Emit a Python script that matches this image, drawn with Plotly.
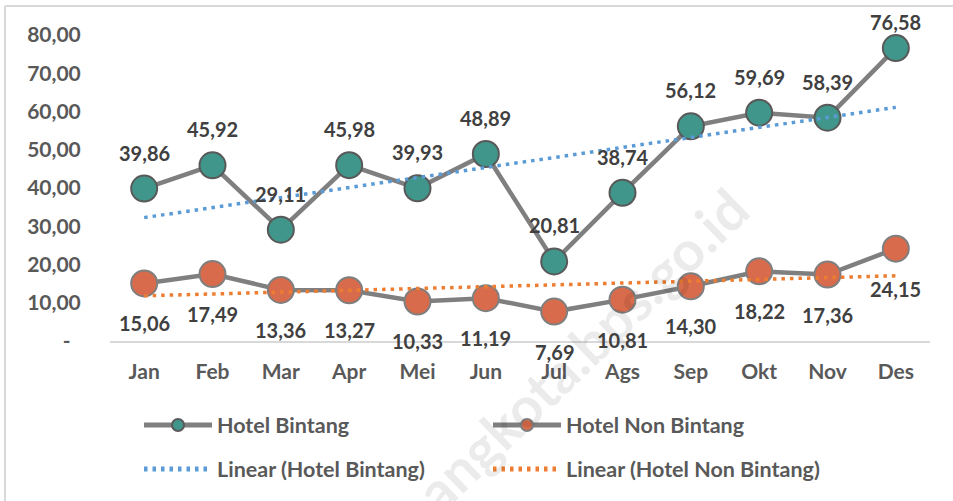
import numpy as np
import plotly.graph_objects as go

months = ["Jan", "Feb", "Mar", "Apr", "Mei", "Jun", "Jul", "Ags", "Sep", "Okt", "Nov", "Des"]
hotel_bintang = [39.86, 45.92, 29.11, 45.98, 39.93, 48.89, 20.81, 38.74, 56.12, 59.69, 58.39, 76.58]
hotel_non_bintang = [15.06, 17.49, 13.36, 13.27, 10.33, 11.19, 7.69, 10.81, 14.30, 18.22, 17.36, 24.15]
y_tick_vals = [0, 10, 20, 30, 40, 50, 60, 70, 80]
y_tick_text = ["-  ", "10,00", "20,00", "30,00", "40,00", "50,00", "60,00", "70,00", "80,00"]

FONT = "Lato, 'Open Sans', sans-serif"
W, H = 953, 501
L, R, T, B = 110, 23, 35, 160
PW, PH = W - L - R, H - T - B


def px(xp):
    return (xp - L) / PW


def py(yp):
    return (H - B - yp) / PH


def fmt(v):
    return f"{v:.2f}".replace(".", ",")


idx = np.arange(len(months))
trend_b = np.polyval(np.polyfit(idx, hotel_bintang, 1), idx)
trend_nb = np.polyval(np.polyfit(idx, hotel_non_bintang, 1), idx)

fig = go.Figure()
fig.add_trace(go.Scatter(
    x=months, y=hotel_bintang, name="Hotel Bintang", mode="lines+markers",
    line=dict(color="#7F7F7F", width=4.5),
    marker=dict(size=26, color="#40968A", line=dict(color="#595959", width=2)),
    legend="legend"))
fig.add_trace(go.Scatter(
    x=months, y=hotel_non_bintang, name="Hotel Non Bintang", mode="lines+markers",
    line=dict(color="#7F7F7F", width=4.5),
    marker=dict(size=26, color="#D86B4B", line=dict(color="#7F7F7F", width=2)),
    legend="legend2"))
fig.add_trace(go.Scatter(
    x=months, y=trend_b, name="Linear (Hotel Bintang)", mode="lines",
    line=dict(color="#5B9BD5", width=3.5, dash="3.5px,5px"),
    legend="legend3"))
fig.add_trace(go.Scatter(
    x=months, y=trend_nb, name="Linear (Hotel Non Bintang)", mode="lines",
    line=dict(color="#ED7D31", width=3.5, dash="3.5px,5px"),
    legend="legend4"))

annotations = []
# watermark (drawn first so labels sit on top)
annotations.append(dict(xref="paper", yref="paper", x=px(582), y=py(350), text="angkota.bps.go.id",
                        xanchor="center", yanchor="middle",
                        showarrow=False, textangle=-44,
                        font=dict(family=FONT, size=56, color="rgba(0,0,0,0.08)", weight="bold")))
n = len(months)
for i, (m, v) in enumerate(zip(months, hotel_bintang)):
    annotations.append(dict(x=m, y=v, text=fmt(v), showarrow=False,
                            yshift=26 if i == n - 1 else 36,
                            font=dict(family=FONT, size=20, color="#404040", weight="bold")))
for m, v in zip(months, hotel_non_bintang):
    annotations.append(dict(x=m, y=v, text=fmt(v), showarrow=False, yshift=-40,
                            font=dict(family=FONT, size=20, color="#404040", weight="bold")))

leg_font = dict(family=FONT, size=21.5, color="#595959", weight="bold")
leg_common = dict(orientation="h", xanchor="left", yanchor="middle", font=leg_font,
                  bgcolor="rgba(0,0,0,0)", itemwidth=68, itemsizing="constant")

fig.update_layout(
    width=W, height=H,
    margin=dict(l=L, r=R, t=T, b=B),
    paper_bgcolor="white", plot_bgcolor="white",
    font=dict(family=FONT),
    showlegend=True,
    legend=dict(x=px(139), y=py(425), **leg_common),
    legend2=dict(x=px(488), y=py(425), **leg_common),
    legend3=dict(x=px(139), y=py(469), **leg_common),
    legend4=dict(x=px(488), y=py(469), **leg_common),
    xaxis=dict(
        type="category", range=[-0.5, 11.5], showgrid=False, showline=True,
        linecolor="#D9D9D9", linewidth=2, ticks="outside", ticklen=11,
        tickcolor="rgba(0,0,0,0)",
        tickfont=dict(family=FONT, size=21, color="#595959", weight="bold"),
        zeroline=False, fixedrange=True),
    yaxis=dict(
        range=[0, 80], tickvals=y_tick_vals, ticktext=y_tick_text, showgrid=False,
        showline=False, zeroline=False, ticks="outside", ticklen=24,
        tickcolor="rgba(0,0,0,0)",
        tickfont=dict(family=FONT, size=21, color="#595959", weight="bold"),
        fixedrange=True),
    annotations=annotations,
    shapes=[
        dict(type="line", xref="paper", yref="paper", x0=px(5), x1=px(953), y0=py(6), y1=py(6),
             line=dict(color="#D9D9D9", width=2)),
        dict(type="line", xref="paper", yref="paper", x0=px(5), x1=px(5), y0=py(6), y1=py(501),
             line=dict(color="#D9D9D9", width=2)),
    ],
)
for tr in fig.data:
    tr.cliponaxis = False

fig.write_html("out.html")
